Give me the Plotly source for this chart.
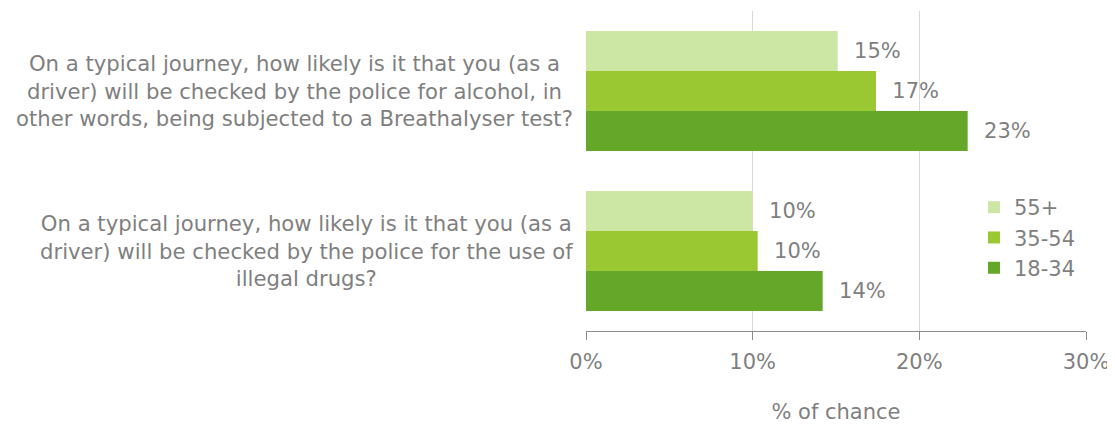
import plotly.graph_objects as go

categories = [
    "On a typical journey, how likely is it that you (as a<br>driver) will be checked by the police for alcohol, in<br>other words, being subjected to a Breathalyser test?",
    "On a typical journey, how likely is it that you (as a<br>driver) will be checked by the police for the use of<br>illegal drugs?",
]
series_names = ["55+", "35-54", "18-34"]
values_55 = [15.1, 10.0]
values_35 = [17.4, 10.3]
values_18 = [22.9, 14.2]
tick_vals = [0, 10, 20, 30]
tick_text = ["0%", "10%", "20%", "30%"]

colors = ["#CBE7A3", "#99C833", "#65A829"]
FONT = "DejaVu Sans"
GREY = "#7F7F7F"
FS = 21

fig = go.Figure()
for name, vals, col in zip(series_names, [values_55, values_35, values_18], colors):
    fig.add_trace(go.Bar(
        y=list(range(len(categories))), x=vals, name=name, orientation="h",
        marker=dict(color=col, line=dict(width=0)),
        texttemplate="  %{x:.0f}%", textposition="outside",
        textfont=dict(family=FONT, size=FS, color=GREY),
        cliponaxis=False,
    ))

for i, c in enumerate(categories):
    fig.add_annotation(
        x=0, xref="paper", xanchor="right", xshift=-11,
        y=i, yref="y", yanchor="middle",
        text=c, showarrow=False, align="center",
        font=dict(family=FONT, size=21.2, color=GREY),
    )

# the page body has an 8px margin, so the figure is 8px smaller and margins compensate
fig.update_layout(
    width=1107, height=417,
    margin=dict(l=578, r=29, t=3, b=94),
    paper_bgcolor="white", plot_bgcolor="white",
    barmode="group", bargap=0.25, bargroupgap=0,
    font=dict(family=FONT, size=FS, color=GREY),
    showlegend=True,
    legend=dict(x=0.776, y=0.45, xanchor="left", yanchor="top",
                font=dict(family=FONT, size=FS, color=GREY),
                bgcolor="rgba(0,0,0,0)", itemwidth=30, tracegroupgap=0),
    xaxis=dict(range=[0, 30], tickvals=tick_vals, ticktext=tick_text,
               showgrid=True, gridcolor="#D9D9D9", gridwidth=1,
               showline=True, linecolor="#8C8C8C", linewidth=1,
               ticks="outside", ticklen=8, tickcolor="#8C8C8C",
               ticklabelstandoff=4,
               tickfont=dict(family=FONT, size=FS, color=GREY),
               zeroline=False,
               title=dict(text="% of chance", standoff=31,
                          font=dict(family=FONT, size=FS, color=GREY))),
    yaxis=dict(range=[1.5, -0.5], showticklabels=False, showgrid=False,
               zeroline=False, showline=False, ticks=""),
)

fig.write_html("out.html")
